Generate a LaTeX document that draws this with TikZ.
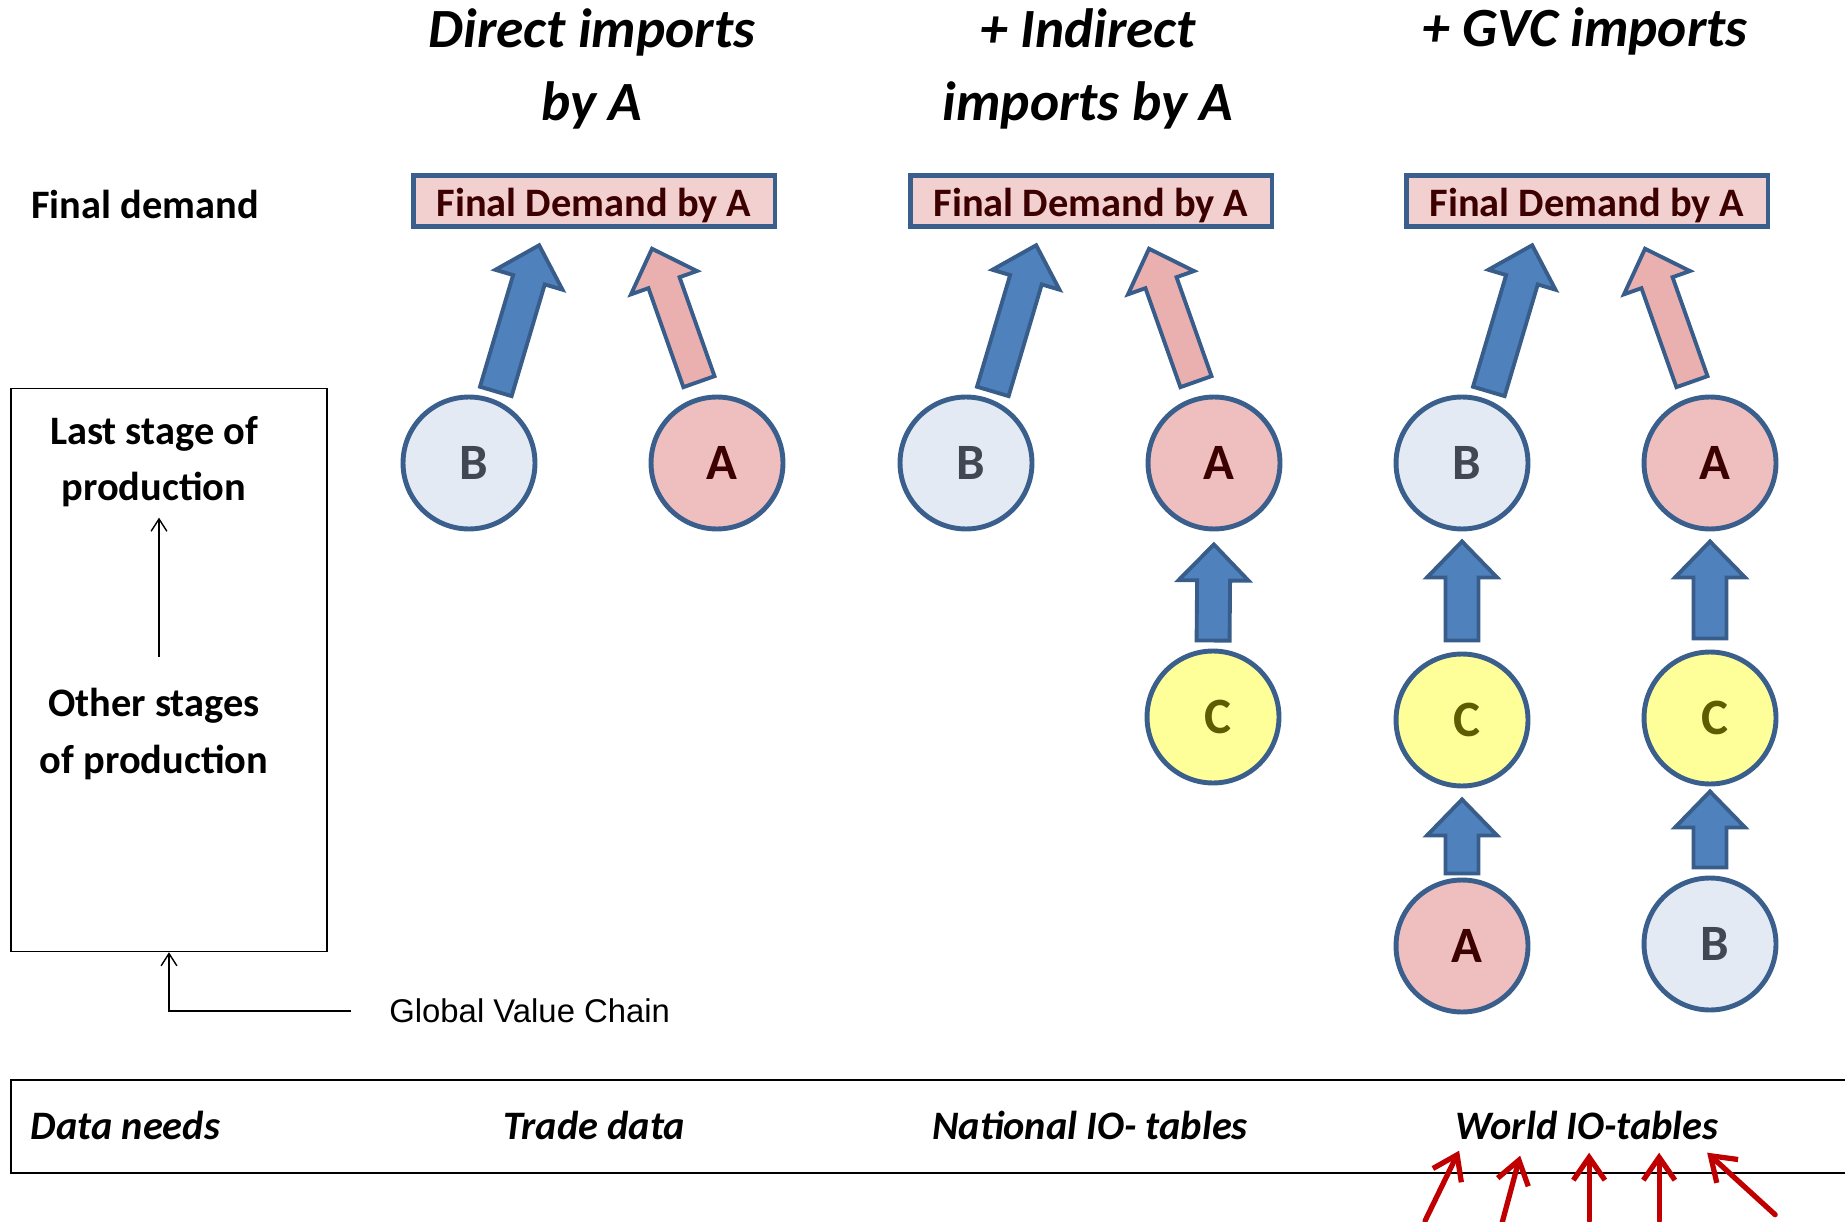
\documentclass[tikz,border=0pt]{standalone}
\usepackage{fontspec}
\setmainfont{Carlito}
\newfontfamily\arialfont{Liberation Sans}
\usetikzlibrary{calc,positioning,arrows.meta}

\definecolor{rimblue}{RGB}{58,95,140}
\definecolor{fillB}{RGB}{227,234,244}
\definecolor{fillA}{RGB}{239,191,191}
\definecolor{fillC}{RGB}{255,255,153}
\definecolor{textB}{RGB}{64,72,84}
\definecolor{textA}{RGB}{60,0,0}
\definecolor{textC}{RGB}{94,92,0}
\definecolor{boxpink}{RGB}{243,208,208}
\definecolor{arrowblue}{RGB}{79,129,189}
\definecolor{arrowedge}{RGB}{56,93,138}
\definecolor{arrowpink}{RGB}{234,176,176}
\definecolor{darkred}{RGB}{192,0,0}

% block arrow: #1 style, #2 from, #3 to, #4 gap at tail, #5 gap at tip
\newcommand{\blockarrow}[5]{%
	\coordinate (ba-t) at ($(#2)!#4!(#3)$);
	\coordinate (ba-h) at ($(#3)!#5!(#2)$);
	\coordinate (ba-n) at ($(ba-h)!0.72cm!(ba-t)$);
	\draw[#1] ($(ba-t)!0.33cm!90:(ba-h)$) -- ($(ba-n)!0.33cm!90:(ba-h)$)
	-- ($(ba-n)!0.7cm!90:(ba-h)$) -- (ba-h) -- ($(ba-n)!0.7cm!-90:(ba-h)$)
	-- ($(ba-n)!0.33cm!-90:(ba-h)$) -- ($(ba-t)!0.33cm!-90:(ba-h)$) -- cycle;
}

\tikzset{
	country/.style={circle, draw=rimblue, line width=2.8pt, minimum size=2.64cm,
		inner sep=0pt, font=\fontsize{29}{35}\selectfont\bfseries,
		execute at begin node=\hspace*{0.19cm}},
	cB/.style={country, fill=fillB, text=textB},
	cA/.style={country, fill=fillA, text=textA},
	cC/.style={country, fill=fillC, text=textC},
	fdbox/.style={draw=rimblue, fill=boxpink, line width=2.8pt, minimum width=7.24cm,
		minimum height=1.02cm, inner sep=0pt, text=textA,
		text height=0.72cm, text depth=0.1cm,
		font=\fontsize{23}{27}\selectfont\bfseries},
	heading/.style={align=center, inner sep=0pt,
		font=\fontsize{31.5}{41.4}\selectfont\bfseries\itshape},
	stagetext/.style={align=center, inner sep=0pt,
		font=\fontsize{23}{32}\selectfont\bfseries},
	bandtext/.style={inner sep=0pt, font=\fontsize{23}{27}\selectfont\bfseries\itshape},
	bluearrow/.style={draw=arrowedge, fill=arrowblue, line width=2.2pt},
	pinkarrow/.style={draw=arrowedge, fill=arrowpink, line width=2.2pt},
	stagearrow/.style={line width=0.8pt, -{Straight Barb[length=7pt,width=9pt]}},
	redarrow/.style={darkred, line width=3pt, line cap=round,
		-{Straight Barb[length=13pt,width=18pt]}}
}

\begin{document}
\begin{tikzpicture}[x=0.02cm, y=-0.02cm, line join=miter]
	\useasboundingbox (0,0) rectangle (1845,1222);
	% Headings
	\node[heading] (h1) at (592,69) {Direct imports\\by A};
	\node[heading] (h2) at (1088,69) {+ Indirect\\imports by A};
	\node[heading] (h3) at (1585,31) {+ GVC imports};
	\node[stagetext, anchor=west] (fdlabel) at (31,204) {Final demand};
	% Boxes and countries of each column
	\foreach \i/\x in {1/469, 2/966, 3/1462}{
		\node[fdbox] (fd\i) at ({\x+125},201) {Final Demand by A};
		\node[cB] (b\i) at (\x,463) {B};
		\node[cA] (a\i) at ({\x+248},463) {A};
		\coordinate (fdl\i) at ($(fd\i.south)+(-50,0)$);
		\coordinate (fdr\i) at ($(fd\i.south)+(51,0)$);
		\blockarrow{bluearrow}{b\i.69}{fdl\i}{0.16cm}{0.34cm}
		\blockarrow{pinkarrow}{a\i.101}{fdr\i}{0.3cm}{0.42cm}
	}
	% Indirect imports
	\node[cC] (c2) at (1213,717) {C};
	\blockarrow{bluearrow}{c2.north}{a2.south}{0.16cm}{0.26cm}
	% GVC imports
	\node[cC] (c3l) at (1462,720) {C};
	\node[cC] (c3r) at (1710,718) {C};
	\node[cA] (a3b) at (1462,946) {A};
	\node[cB] (b3b) at (1710,944) {B};
	\blockarrow{bluearrow}{c3l.north}{b3.south}{0.22cm}{0.2cm}
	\blockarrow{bluearrow}{c3r.north}{a3.south}{0.22cm}{0.2cm}
	\blockarrow{bluearrow}{a3b.north}{c3l.south}{0.08cm}{0.22cm}
	\blockarrow{bluearrow}{b3b.north}{c3r.south}{0.16cm}{0.1cm}
	% Stages of production
	\node[draw, line width=0.9pt, minimum width=6.33cm, minimum height=11.26cm,
		inner sep=0pt] (gvc) at (169,670) {};
	\node[stagetext] (last) at (154,462) {Last stage of\\production};
	\node[stagetext] (other) at (154,734) {Other stages\\of production};
	\draw[stagearrow, shorten <=0.62cm, shorten >=0.2cm]
		([xshift=0.1cm]other.north) -- ([xshift=0.1cm]last.south);
	\node[anchor=west, inner sep=0pt, font=\fontsize{18.7}{22}\arialfont]
		(gvclabel) at (389,1011) {Global Value Chain};
	\draw[stagearrow, shorten <=0.76cm] (gvclabel.west) -| (gvc.south);
	% Data needs
	\draw[line width=1.1pt] (1845,1080) -- (10.6,1080) -- (10.6,1173) -- (1845,1173);
	\node[bandtext, anchor=west] (needs) at (30.6,1125) {Data needs};
	\node[bandtext] (trade) at (594,1125) {Trade data};
	\node[bandtext] (natio) at (1090,1125) {National IO- tables};
	\node[bandtext] (worldio) at (1587,1125) {World IO-tables};
	\foreach \dx/\dy/\tx/\ty in {4/11/-34/70, 65/16/-18/67, 134/13/0/68,
		204/13/0/68, 252/13/68/62}{
		\coordinate (wt) at ($(worldio.south west)+(\dx,\dy)$);
		\draw[redarrow] ($(wt)+(\tx,\ty)$) -- (wt);
	}
\end{tikzpicture}
\end{document}
